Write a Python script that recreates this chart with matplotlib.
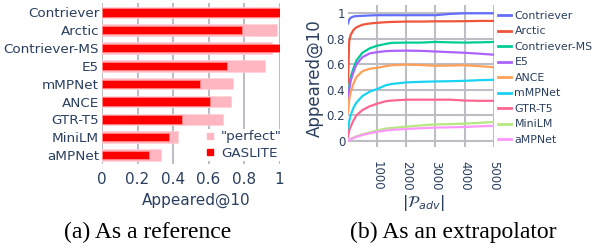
import numpy as np
import matplotlib
matplotlib.use("Agg")
import matplotlib.pyplot as plt
from matplotlib.lines import Line2D

# ---- data ----
bar_models = ["Contriever", "Arctic", "Contriever-MS", "E5", "mMPNet", "ANCE",
              "GTR-T5", "MiniLM", "aMPNet"]
perfect = [1.0, 0.987, 0.957, 0.919, 0.74, 0.725, 0.68, 0.43, 0.335]
gaslite = [1.0, 0.787, 1.0, 0.703, 0.552, 0.608, 0.449, 0.379, 0.264]

n_adv = [10, 50, 100, 200, 300, 500, 750, 1000, 1300, 1500, 2000, 2500, 3000,
         3500, 4000, 4500, 5000]
curves = {
    "Contriever":    [0.92, 0.95, 0.965, 0.975, 0.978, 0.98, 0.983, 0.985, 0.985, 0.985,
                      0.985, 0.985, 0.985, 0.995, 1.0, 1.0, 1.0],
    "Arctic":        [0.45, 0.78, 0.83, 0.87, 0.89, 0.91, 0.92, 0.925, 0.93, 0.932,
                      0.935, 0.935, 0.937, 0.937, 0.938, 0.94, 0.94],
    "Contriever-MS": [0.3, 0.42, 0.5, 0.57, 0.63, 0.69, 0.725, 0.745, 0.76, 0.768,
                      0.77, 0.77, 0.775, 0.772, 0.77, 0.772, 0.775],
    "E5":            [0.28, 0.4, 0.47, 0.54, 0.6, 0.655, 0.685, 0.695, 0.703, 0.705,
                      0.707, 0.705, 0.7, 0.695, 0.69, 0.683, 0.675],
    "ANCE":          [0.22, 0.32, 0.38, 0.45, 0.5, 0.545, 0.565, 0.572, 0.585, 0.592,
                      0.597, 0.594, 0.588, 0.59, 0.592, 0.585, 0.577],
    "mMPNet":        [0.08, 0.15, 0.2, 0.26, 0.3, 0.35, 0.385, 0.405, 0.435, 0.445,
                      0.458, 0.462, 0.465, 0.467, 0.47, 0.475, 0.478],
    "GTR-T5":        [0.03, 0.08, 0.11, 0.16, 0.2, 0.24, 0.27, 0.29, 0.31, 0.315,
                      0.322, 0.322, 0.322, 0.322, 0.315, 0.313, 0.313],
    "MiniLM":        [0.0, 0.01, 0.015, 0.025, 0.035, 0.05, 0.065, 0.08, 0.095, 0.1,
                      0.11, 0.12, 0.128, 0.13, 0.134, 0.14, 0.147],
    "aMPNet":        [0.0, 0.008, 0.012, 0.02, 0.03, 0.045, 0.058, 0.07, 0.08, 0.085,
                      0.092, 0.098, 0.103, 0.105, 0.108, 0.113, 0.117],
}
colors = ["#636EFA", "#EF553B", "#00CC96", "#AB63FA", "#FFA15A", "#19D3F3",
          "#FF6692", "#B6E880", "#FF97FF"]

TXT = "#2a3f5f"
GRID = "#bdbdc5"
W, H = 592, 250

fig = plt.figure(figsize=(W/100, H/100), dpi=100)

def px_axes(x0, y0, x1, y1):
    # axes from pixel box (top-left origin)
    return fig.add_axes([x0/W, 1-y1/H, (x1-x0)/W, (y1-y0)/H])

# ---- (a) bars ----
ax1 = px_axes(102, 3.4, 279.5, 164)
pos = np.arange(len(bar_models))
ax1.barh(pos, perfect, height=0.65, color="#FFB6C1", edgecolor="#ffd0d8", lw=0.5, zorder=2)
ax1.barh(pos, gaslite, height=0.47, color="#FF0000", edgecolor="#ff9090", lw=0.5, zorder=3)
ax1.set_ylim(len(bar_models)-0.5, -0.5)
ax1.set_xlim(0, 1)
ax1.set_yticks(pos)
ax1.set_yticklabels(bar_models, fontsize=9.7, color=TXT)
ax1.set_xticks([0, 0.2, 0.4, 0.6, 0.8, 1])
ax1.set_xticklabels(["0", "0.2", "0.4", "0.6", "0.8", "1"], fontsize=11, color=TXT)
ax1.tick_params(length=0, pad=2)
ax1.tick_params(axis="x", pad=6)
ax1.grid(axis="x", color=GRID, lw=1.5, zorder=0)
ax1.set_axisbelow(True)
for s in ax1.spines.values():
    s.set_visible(False)
fig.text(196/W, 1-200/H, "Appeared@10", fontsize=11, color=TXT, ha="center", va="center")

h_bar = [Line2D([], [], ls="none", marker="s", ms=4.5, color="#FFB6C1"),
         Line2D([], [], ls="none", marker="s", ms=4.5, color="#FF0000")]
leg1 = ax1.legend(h_bar, ['"perfect"', "GASLITE"], loc="upper left",
                  bbox_to_anchor=(205/W, 1-129/H), bbox_transform=fig.transFigure,
                  fontsize=9.7, frameon=True, facecolor="white", edgecolor="none",
                  framealpha=1, handlelength=0.6, handletextpad=0.5,
                  labelspacing=0.25, borderpad=0.1, borderaxespad=0)
for t in leg1.get_texts():
    t.set_color(TXT)

# ---- (b) curves ----
ax2 = px_axes(348, 5, 494, 146.7)
for (name, vals), c in zip(curves.items(), colors):
    ax2.plot(n_adv, vals, color=c, lw=1.6, label=name)
ax2.set_xlim(n_adv[0], 5000)
ax2.set_ylim(-0.047, 1.065)
ax2.set_yticks([0, 0.2, 0.4, 0.6, 0.8, 1])
ax2.set_yticklabels(["0", "0.2", "0.4", "0.6", "0.8", "1"], fontsize=8.5, color=TXT)
ax2.set_xticks([1000, 2000, 3000, 4000, 5000])
ax2.set_xticklabels(["1000", "2000", "3000", "4000", "5000"], fontsize=8.5,
                    color=TXT, rotation=-90)
ax2.tick_params(length=0, pad=2)
ax2.tick_params(axis="x", pad=10)
ax2.grid(color=GRID, lw=1.5, zorder=0)
ax2.set_axisbelow(True)
for s in ax2.spines.values():
    s.set_visible(False)
fig.text(315/W, 1-78/H, "Appeared@10", fontsize=12, color=TXT, rotation=90,
         ha="center", va="center")
fig.text(423/W, 1-203/H, r"$|\mathcal{P}_{adv}|$", fontsize=11.5, color=TXT,
         ha="center", va="center")

leg2 = ax2.legend(loc="upper left", bbox_to_anchor=(498/W, 1-11/H),
                  bbox_transform=fig.transFigure, fontsize=7.9, frameon=False,
                  handlelength=1.2, handletextpad=0.3, labelspacing=0.5,
                  borderpad=0, borderaxespad=0)
for t in leg2.get_texts():
    t.set_color(TXT)
for l in leg2.get_lines():
    l.set_linewidth(2)

# ---- captions ----
fig.text(148/W, 1-232/H, "(a) As a reference", fontsize=17, family="Liberation Serif",
         ha="center", va="center")
fig.text(453/W, 1-232/H, "(b) As an extrapolator", fontsize=17,
         family="Liberation Serif", ha="center", va="center")

fig.savefig("out.png", dpi=100)
